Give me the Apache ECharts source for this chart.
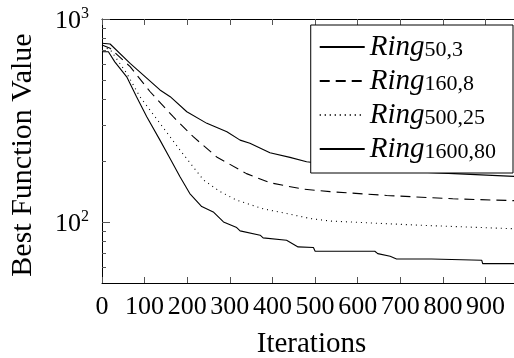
<!DOCTYPE html>
<html>
<head>
<meta charset="utf-8">
<script src="https://cdn.jsdelivr.net/npm/echarts@6/dist/echarts.min.js"></script>
<style>
  html, body { margin: 0; padding: 0; background: #fff; }
  #chart { width: 514px; height: 358px; }
</style>
</head>
<body>
<div id="chart"></div>
<script>
// data (iteration, best function value)
const ringSubs = ['50,3', '160,8', '500,25', '1600,80'];

const ring50Iter = [0, 19, 66, 136, 160, 199, 246, 293, 324, 347, 394, 441, 480, 633, 800, 983];
const ring50Val  = [760, 753, 604, 447, 414, 349, 306, 278, 253, 244, 219, 208, 198, 181, 174, 167];

const ring160Iter = [0, 19, 66, 113, 167, 214, 269, 339, 394, 472, 535, 668, 823, 983];
const ring160Val  = [745, 717, 582, 438, 330, 263, 209, 173, 156, 145, 141, 135, 130, 127];

const ring500Iter = [0, 19, 58, 89, 136, 183, 238, 277, 316, 378, 433, 488, 535, 746, 949, 983];
const ring500Val  = [730, 708, 540, 414, 306, 226, 161, 141, 128, 116, 110, 104, 101, 96.3, 92.8, 92.5];

const ring1600Iter = [0, 15, 30, 58, 81, 105, 136, 160, 183, 206, 234, 261, 285, 316, 324, 371, 378, 433,
                      460, 496, 500, 640, 647, 676, 691, 773, 777, 891, 893, 983];
const ring1600Val  = [690, 690, 615, 519, 414, 330, 253, 205, 167, 138, 119, 112, 100, 93.8, 90.3, 86.0, 83.4, 81.2,
                      75.3, 74.8, 71.7, 71.7, 69.8, 67.7, 65.7, 65.7, 64.7, 64.7, 62.3, 62.3];

const xTicks = [0, 100, 200, 300, 400, 500, 600, 700, 800, 900];
const yMajor = [100, 1000];
const yMinor = [60, 70, 80, 90, 200, 300, 400, 500, 600, 700, 800, 900];

const FONT = 'Liberation Serif';

const pairs = (xs, ys) => xs.map((x, i) => [x, ys[i]]);

const chart = echarts.init(document.getElementById('chart'));

const mkSeries = (sub, xs, ys, type) => ({
    name: 'Ring_' + sub,
    type: 'line',
    data: pairs(xs, ys),
    symbol: 'none',
    showSymbol: false,
    xAxisIndex: 0,
    yAxisIndex: 0,
    lineStyle: { color: '#000', width: 1.1, type: type },
    itemStyle: { color: '#000' }
});

chart.setOption({
    animation: false,
    backgroundColor: '#fff',
    // plot box runs a little past the right edge of the picture
    grid: { left: 102, top: 19, width: 419, height: 264, outerBoundsMode: 'none', containLabel: false },
    xAxis: [
        {
            type: 'value', min: 0, max: 983, interval: 100,
            position: 'bottom',
            name: 'Iterations', nameLocation: 'middle', nameGap: 47,
            nameTextStyle: { fontFamily: FONT, fontSize: 29, color: '#000' },
            axisLine: { show: true, lineStyle: { color: '#000', width: 1 } },
            axisTick: { show: true, inside: true, length: 6, customValues: xTicks, lineStyle: { color: '#555' } },
            axisLabel: { customValues: xTicks, margin: 11, fontFamily: FONT, fontSize: 26, color: '#000' },
            splitLine: { show: false }
        },
        {
            type: 'value', min: 0, max: 983, interval: 100,
            position: 'top',
            axisLine: { show: true, lineStyle: { color: '#000', width: 1 } },
            axisTick: { show: true, inside: true, length: 6, customValues: xTicks, lineStyle: { color: '#555' } },
            axisLabel: { show: false },
            splitLine: { show: false }
        }
    ],
    yAxis: [
        {
            type: 'log', logBase: 10, min: 50, max: 1000,
            position: 'left',
            name: 'Best Function Value', nameLocation: 'middle', nameGap: 64,
            nameTextStyle: { fontFamily: FONT, fontSize: 30, color: '#000', padding: [0, 0, 0, -8] },
            axisLine: { show: true, lineStyle: { color: '#000', width: 1 } },
            axisTick: { show: true, inside: true, length: 4, customValues: yMinor, lineStyle: { color: '#555' } },
            axisLabel: {
                customValues: yMajor, margin: 13,
                formatter: v => '{b|10}{p|' + Math.round(Math.log10(v)) + '}',
                rich: {
                    b: { fontFamily: FONT, fontSize: 26, color: '#000', lineHeight: 26, padding: [2, 0, 0, 0], verticalAlign: 'top' },
                    p: { fontFamily: FONT, fontSize: 16, color: '#000', lineHeight: 16, verticalAlign: 'top' }
                }
            },
            splitLine: { show: false }
        },
        {
            type: 'log', logBase: 10, min: 50, max: 1000,
            position: 'left',
            axisLine: { show: false },
            axisTick: { show: true, inside: true, length: 8, customValues: yMajor, lineStyle: { color: '#555' } },
            axisLabel: { show: false },
            splitLine: { show: false }
        }
    ],
    legend: {
        orient: 'vertical', align: 'left',
        top: 25, right: 1,
        backgroundColor: '#fff', borderColor: '#000', borderWidth: 1, borderRadius: 0,
        padding: [8, 17, 6, 8], itemGap: 2, itemWidth: 45, itemHeight: 14,
        selectedMode: false,
        itemStyle: { opacity: 0 },
        formatter: name => '{i|Ring}{s|' + name.split('_')[1] + '}',
        textStyle: {
            rich: {
                i: { fontFamily: FONT, fontSize: 29, fontStyle: 'italic', color: '#000', lineHeight: 28, padding: [0, 0, 3, 0], verticalAlign: 'top' },
                s: { fontFamily: FONT, fontSize: 22, color: '#000', lineHeight: 20, verticalAlign: 'bottom' }
            }
        }
    },
    series: [
        mkSeries(ringSubs[0], ring50Iter, ring50Val, 'solid'),
        mkSeries(ringSubs[1], ring160Iter, ring160Val, [10, 6]),
        mkSeries(ringSubs[2], ring500Iter, ring500Val, [1, 4]),
        mkSeries(ringSubs[3], ring1600Iter, ring1600Val, 'solid')
    ]
});
</script>
</body>
</html>
